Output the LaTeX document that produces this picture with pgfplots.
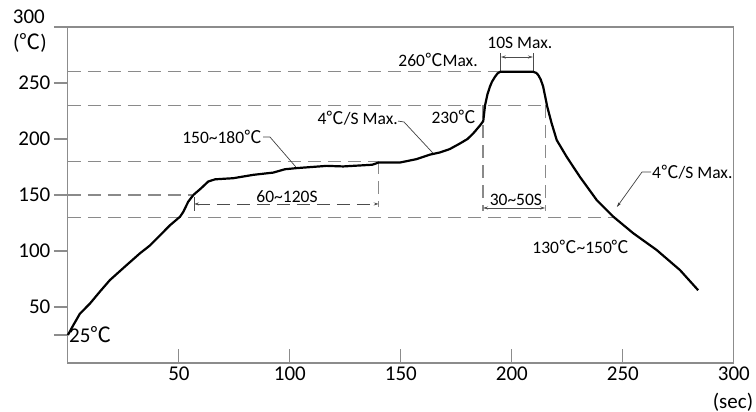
\documentclass[border=0pt]{standalone}
\usepackage{fontspec}
\setmainfont{Carlito}
\newfontfamily\cjk{Noto Sans CJK SC}
\newcommand{\dC}{{\cjk ℃}}
\usepackage{pgfplots}
\pgfplotsset{compat=1.18}
\usetikzlibrary{arrows.meta}
\definecolor{axgray}{HTML}{8C8C8C}
\definecolor{dashgray}{HTML}{8A8A8A}

\begin{document}
\begin{tikzpicture}
\useasboundingbox (-67.9pt,-49pt) rectangle (688.1pt,363pt);
\begin{axis}[
    scale only axis,
    width=666pt, height=336pt,
    xmin=0, xmax=300, ymin=0, ymax=300,
    axis line style={axgray, line width=1.2pt},
    xtick={50,100,150,200,250,300},
    ytick={25,50,100,150,200,250,300},
    yticklabels={{},50,100,150,200,250,{}},
    xtick pos=bottom, ytick pos=left,
    xtick align=inside, ytick align=outside,
    major tick length=14pt,
    tick style={axgray, line width=1.2pt},
    ticklabel style={font=\fontsize{21}{24}\selectfont},
    /pgf/number format/assume math mode=true,
    /pgf/number format/1000 sep={},
    clip=false,
]
% reference lines
\addplot[dashgray, line width=1.1pt, dash pattern=on 13pt off 7pt] coordinates {(0,260) (195,260)};
\addplot[dashgray, line width=1.1pt, dash pattern=on 13pt off 7pt] coordinates {(0,230) (215,230)};
\addplot[dashgray, line width=1.1pt, dash pattern=on 13pt off 7pt] coordinates {(0,180) (140,180)};
\addplot[dashgray, line width=1.1pt, dash pattern=on 13pt off 7pt] coordinates {(0,150) (56,150)};
\addplot[dashgray, line width=1.1pt, dash pattern=on 13pt off 7pt] coordinates {(0,130) (246,130)};
\addplot[dashgray, line width=1.1pt, dash pattern=on 13pt off 7pt] coordinates {(140,180) (140,139)};
\addplot[dashgray, line width=1.1pt, dash pattern=on 13pt off 7pt] coordinates {(187,230) (187,136)};
\addplot[dashgray, line width=1.1pt, dash pattern=on 13pt off 7pt] coordinates {(215,230) (215,136)};
% dimension lines
\addplot[black!70, line width=0.8pt, dash pattern=on 13pt off 7pt, {Stealth[length=5pt,width=3pt]}-{Stealth[length=5pt,width=3pt]}] coordinates {(56.8,142) (140,142)};
\addplot[black!70, line width=0.8pt] coordinates {(56.8,148) (56.8,136)};
\addplot[black!70, line width=0.8pt, {Stealth[length=5pt,width=3pt]}-{Stealth[length=5pt,width=3pt]}] coordinates {(187,138.4) (215,138.4)};
\addplot[black!70, line width=0.8pt] coordinates {(195,260) (195,277)};
\addplot[black!70, line width=0.8pt] coordinates {(209.5,260) (209.5,277)};
\addplot[black!70, line width=0.8pt, {Stealth[length=5pt,width=3pt]}-{Stealth[length=5pt,width=3pt]}] coordinates {(195,273.2) (209.5,273.2)};
% leaders
\addplot[black!75, line width=0.7pt] coordinates {(87.9,201.8) (91,201.8) (102.7,175)};
\addplot[black!75, line width=0.7pt] coordinates {(148.7,216) (151.4,215.2) (164.4,187.5)};
\addplot[black!75, line width=0.7pt, -{Stealth[length=5pt,width=3pt]}] coordinates {(262.7,170.5) (258.6,170.5) (247.3,139.3)};
% reflow profile
\addplot[black, line width=2.2pt, line join=round] coordinates {
(0,25) (2.5,34) (5.4,44) (9.9,53) (14.4,63.7) (18.9,74) (26.5,87.5) (32.5,98)
(37,105) (41.5,114) (46,123) (50.5,130.6) (52,135) (54.2,144) (56.5,150) (60,156)
(63.2,162) (66.3,164) (74.5,165) (83.5,168) (92.5,170) (97.8,173) (103,174)
(116.6,176) (124,175.5) (137,177) (140,179) (149.6,179) (157,182) (163,186)
(167.6,188) (172,191) (176.6,196) (180,200) (182.6,205) (185.6,212) (187.1,216)
(187.9,230) (189,240) (190.1,246.7) (191,251) (192.4,255.6) (193.5,258.5) (194.7,260)
(209.6,260) (211,259) (211.9,257) (213,253) (214.1,246.7) (215.9,229) (217.9,214)
(220.2,199) (224.7,184) (230.7,166) (238.2,145.5) (245.7,130.6) (254.7,115.8)
(265.2,100.9) (275.7,83) (283.9,65)
};
% labels
\begin{scope}[every node/.style={font=\fontsize{17.5}{20}\selectfont, inner sep=0pt}]
\node[anchor=east] at (axis cs:87.4,201.8) {150\textasciitilde180\dC};
\node[anchor=east] at (axis cs:148.7,218.8) {4\dC/S Max.};
\node[anchor=east] at (axis cs:183.8,219.6) {230\dC};
\node[anchor=east] at (axis cs:184.7,270.5) {260\dC Max.};
\node at (axis cs:203.6,285.7) {10S Max.};
\node at (axis cs:201.8,145.5) {30\textasciitilde50S};
\node at (axis cs:98.7,148.2) {60\textasciitilde120S};
\node[anchor=west] at (axis cs:263.1,170.5) {4\dC/S Max.};
\node at (axis cs:231.1,103.6) {130\dC\textasciitilde150\dC};
\end{scope}
\begin{scope}[every node/.style={font=\fontsize{21}{24}\selectfont, inner sep=0pt}]
\node[anchor=west] at (axis cs:0.5,25) {25\dC};
\node at (axis cs:-17.6,309) {300};
\node at (axis cs:-17.1,285.7) {(\dC)};
\node at (axis cs:299.6,-34.8) {(sec)};
\end{scope}
\end{axis}
\end{tikzpicture}
\end{document}
